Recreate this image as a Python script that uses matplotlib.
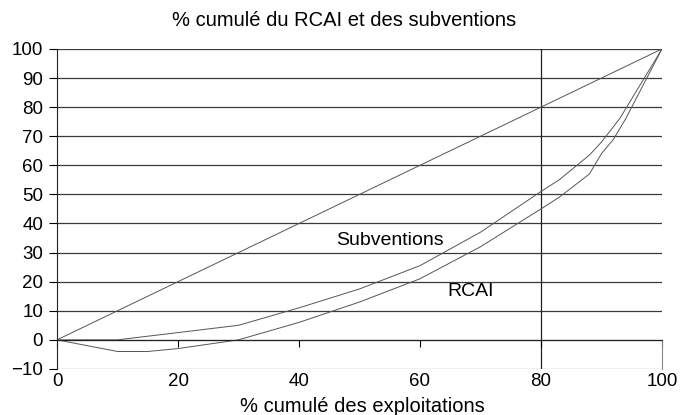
import matplotlib
matplotlib.use("Agg")
import matplotlib.pyplot as plt

plt.rcParams["font.family"] = ["Liberation Sans", "DejaVu Sans"]

# % cumulé des exploitations
x_subv = [0, 10, 20, 30, 40, 50, 60, 70, 80, 83, 88, 90, 93, 100]
y_subv = [0, 0, 2.5, 5, 11, 17.5, 25.5, 37, 51, 55, 63.5, 68, 76, 100]
x_rcai = [0, 10, 15, 20, 30, 40, 50, 60, 70, 80, 83, 88, 90, 92, 94, 100]
y_rcai = [0, -4, -4, -3, 0, 6, 13, 21, 32, 45, 49, 57, 64, 69, 76, 100]
x_equal = [0, 100]
y_equal = [0, 100]

x_ticks = [0, 20, 40, 60, 80, 100]
y_ticks = list(range(-10, 101, 10))

fig = plt.figure(figsize=(6.82, 4.15), dpi=100)
ax = fig.add_axes([0.0836, 0.111, 0.887, 0.771])

for y in y_ticks:
    ax.axhline(y, color="#3a3a3a" if y > -10 else "#888888", lw=0.9, zorder=1)
ax.axvline(80, color="#222222", lw=0.9, zorder=1)

ax.plot(x_equal, y_equal, color="#555555", lw=0.7, zorder=2)
ax.plot(x_subv, y_subv, color="#555555", lw=0.7, zorder=2)
ax.plot(x_rcai, y_rcai, color="#555555", lw=0.7, zorder=2)

ax.text(55, 34, "Subventions", fontsize=14, ha="center", va="center")
ax.text(68.3, 16.5, "RCAI", fontsize=14, ha="center", va="center")

ax.set_xlim(0, 100)
ax.set_ylim(-10, 100)
ax.set_xticks(x_ticks)
ax.set_yticks(y_ticks)

ax.spines["top"].set_visible(False)
ax.spines["right"].set_bounds(-10, 0)
ax.spines["right"].set_color("#888888")
ax.spines["bottom"].set_position(("data", 0))
ax.spines["bottom"].set_color("#222222")
ax.spines["left"].set_color("#222222")

ax.tick_params(axis="x", direction="out", length=5, pad=19, labelsize=13.5)
ax.tick_params(axis="y", direction="out", length=6, pad=4, labelsize=13.5)

fig.text(0.504, 0.937, "% cumulé du RCAI et des subventions", fontsize=14.5,
         ha="center", va="baseline")
fig.text(0.532, 0.008, "% cumulé des exploitations", fontsize=14.5,
         ha="center", va="baseline")

fig.savefig("out.png", dpi=100)
